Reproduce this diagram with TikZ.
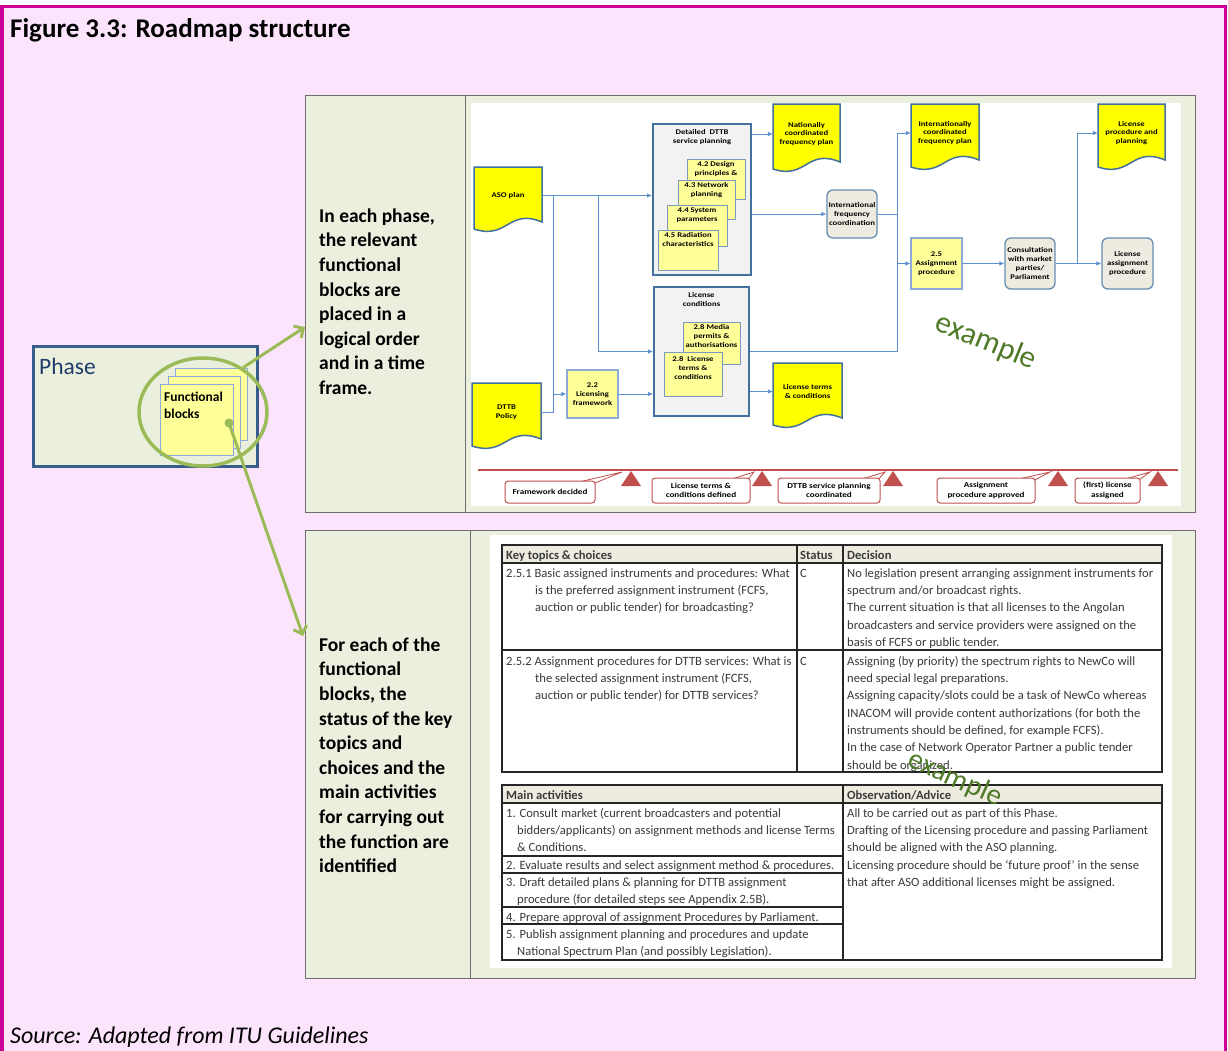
\documentclass[tikz,border=0pt]{standalone}
\usepackage{fontspec}
\setmainfont{Carlito}
\newfontfamily\widefont[FakeStretch=1.2]{Carlito}
\usetikzlibrary{arrows.meta,calc,shapes.geometric}
\definecolor{pinkbg}{HTML}{FDE4FD}
\definecolor{magborder}{HTML}{CC0099}
\definecolor{panelgreen}{HTML}{EBF0DE}
\definecolor{phaseblue}{HTML}{385D8A}
\definecolor{phasetext}{HTML}{1F3D6B}
\definecolor{docyellow}{HTML}{FFFF00}
\definecolor{lyellow}{HTML}{FFFF99}
\definecolor{boxblue}{HTML}{41719C}
\definecolor{lightboxblue}{HTML}{8EAADB}
\definecolor{contgray}{HTML}{F2F2F2}
\definecolor{roundgray}{HTML}{EEECE1}
\definecolor{connblue}{HTML}{5B8FD0}
\definecolor{msred}{HTML}{C0504D}
\definecolor{exgreen}{HTML}{4F7A28}
\definecolor{fgreen}{HTML}{9BBB59}
\definecolor{tabtext}{HTML}{3A3A3A}
\definecolor{tabhead}{HTML}{EEECE1}
\definecolor{tabline}{HTML}{262626}
\definecolor{paneledge}{HTML}{6F6F6F}
% document shape: name, x1, y1, x2, ybottom, text
\newcommand\docbox[6]{%
  \filldraw[docsty] (#2,#3) -- (#4,#3) -- (#4,#5-10)
    .. controls ({(#2+#4)/2},#5-24) and ({(#2+#4)/2},#5+8) .. (#2,#5-3) -- cycle;
  \node[smalltxt, inner sep=0, minimum width={#4-#2}, minimum height={#5-#3-8}]
    (#1) at ({(#2+#4)/2},{(#3+#5-8)/2}) {#6};}
\begin{document}
\begin{tikzpicture}[x=1pt,y=-1pt,
  conn/.style={draw=connblue, line width=0.8pt},
  arr/.style={conn, -{Latex[length=5pt,width=4.5pt]}},
  smalltxt/.style={font=\widefont\fontsize{7.2}{8.8}\selectfont\bfseries, align=center},
  docsty/.style={fill=docyellow, draw=boxblue, line width=1.5pt},
  cont/.style={draw=boxblue, fill=contgray, line width=2pt, inner sep=0},
  subblk/.style={draw=boxblue!70, fill=lyellow, line width=1pt, inner sep=0},
  fnblk/.style={draw=lightboxblue, fill=lyellow, line width=1.3pt, smalltxt, inner sep=0.5pt},
  rbox/.style={draw=boxblue!80, fill=roundgray, rounded corners=6pt, line width=1.3pt, smalltxt, inner sep=0.5pt},
  mstone/.style={draw=msred, fill=white, rounded corners=3pt, line width=1pt,
    font=\widefont\fontsize{7.6}{9.5}\selectfont\bfseries, align=center, inner sep=0.5pt},
  mswedge/.style={draw=msred, fill=white, line width=0.8pt},
  cell/.style={anchor=north west, inner sep=0, align=left, text=tabtext, font=\fontsize{12.6}{17.3}\selectfont},
  headcell/.style={cell, font=\fontsize{12.6}{17.3}\selectfont\bfseries},
  bigtext/.style={anchor=north west, inner sep=0, align=left, font=\fontsize{19.5}{24.6}\selectfont\bfseries},
  examp/.style={text=exgreen, inner sep=0},
  greenarr/.style={draw=fgreen, line width=3pt, -{Straight Barb[length=7pt,width=14pt]}},
  fb/.style={draw=lightboxblue, fill=lyellow, line width=1pt, inner sep=0},
  panel/.style={draw=paneledge, fill=panelgreen, line width=0.8pt, inner sep=0}]
\useasboundingbox (0,0) rectangle (1228,1050);
% frame
\fill[white] (0,0) rectangle (1228,1050);
\filldraw[fill=pinkbg, draw=magborder, line width=3.5pt] (1.75,6.5) rectangle (1225.5,1075);
\node[anchor=base west, inner sep=0, font=\fontsize{27}{30}\selectfont\bfseries] (title) at (10,37) {Figure 3.3: Roadmap structure};
\node[anchor=base west, inner sep=0, font=\fontsize{24}{28}\selectfont\itshape] (source) at (10,1043) {Source: Adapted from ITU Guidelines};
% panels
\node[panel, minimum width=890, minimum height=417] (toppanel) at (750,303.5) {};
\draw[paneledge, line width=0.8pt] (465,95) -- (465,512);
\fill[white] (471,103) rectangle (1181,506);
\node[panel, minimum width=890, minimum height=448] (botpanel) at (750,754) {};
\draw[paneledge, line width=0.8pt] (470,530) -- (470,978);
\fill[white] (490,535) rectangle (1172,968);
% left texts
\node[bigtext] (txt1) at (319,204.8) {\strut In each phase,\\the relevant\\functional\\blocks are\\placed in a\\logical order\\and in a time\\frame.};
\node[bigtext] (txt2) at (319,633.8) {\strut For each of the\\functional\\blocks, the\\status of the key\\topics and\\choices and the\\main activities\\for carrying out\\the function are\\identified};
% phase box
\node[draw=phaseblue, fill=panelgreen, line width=3pt, minimum width=224, minimum height=120, inner sep=0] (phase) at (145,406) {};
\node[anchor=base west, inner sep=0, text=phasetext, font=\fontsize{23.5}{28}\selectfont] (phaselbl) at (39,374) {Phase};
\node[fb, minimum width=72, minimum height=72] (fbback) at (211,404) {};
\node[fb, minimum width=72, minimum height=72] (fbmid) at (204,412) {};
\node[fb, minimum width=73, minimum height=71] (fbfront) at (196.5,419.5) {};
\node[anchor=north west, inner sep=0, align=left, font=\fontsize{13.5}{17}\selectfont\bfseries] (fbtext) at (164,389) {\strut Functional\\blocks};
\node[draw=fgreen, line width=3.5pt, ellipse, minimum width=128, minimum height=108, inner sep=0] (fbell) at (203,412) {};
\node[circle, fill=fgreen, minimum size=9, inner sep=0] (fbdot) at (229,423) {};
\coordinate (tgt1) at (305,327);
\coordinate (tgt2) at (303,636);
\draw[greenarr] (fbell.48) -- (tgt1);
\draw[greenarr] (fbdot.center) -- (tgt2);
% ---- roadmap diagram ----
\docbox{aso}{474}{167}{542}{232}{ASO plan}
\docbox{dttbpol}{472}{383}{541}{449}{DTTB\\Policy}
\docbox{natdoc}{773}{104}{840}{172}{Nationally\\coordinated\\frequency plan}
\docbox{intdoc}{911}{104}{979}{170}{Internationally\\coordinated\\frequency plan}
\docbox{lppdoc}{1098}{104}{1165}{170}{License\\procedure and\\planning}
\docbox{ltcdoc}{773}{363}{842}{428}{License terms\\\& conditions}
% detailed DTTB service planning
\node[cont, minimum width=98, minimum height=151] (detc) at (702,199.5) {};
\node[smalltxt, anchor=north, inner sep=0] (detct) at ($(detc.north)+(0,6)$) {Detailed\ \ DTTB\\service planning};
\node[subblk, minimum width=58, minimum height=40] (s42) at (716,179) {};
\node[smalltxt, anchor=north, inner sep=0] (s42t) at ($(s42.north)+(0,3)$) {4.2 Design\\principles \&};
\node[subblk, minimum width=57, minimum height=39] (s43) at (706.5,199.5) {};
\node[smalltxt, anchor=north, inner sep=0] (s43t) at ($(s43.north)+(0,3)$) {4.3 Network\\planning};
\node[subblk, minimum width=60, minimum height=41] (s44) at (697,225.5) {};
\node[smalltxt, anchor=north, inner sep=0] (s44t) at ($(s44.north)+(0,3)$) {4.4 System\\parameters};
\node[subblk, minimum width=60, minimum height=40] (s45) at (688,250) {};
\node[smalltxt, anchor=north, inner sep=0] (s45t) at ($(s45.north)+(0,3)$) {4.5 Radiation\\characteristics};
% license conditions
\node[cont, minimum width=95, minimum height=129] (lcc) at (701.5,351.5) {};
\node[smalltxt, anchor=north, inner sep=0] (lcct) at ($(lcc.north)+(0,6)$) {License\\conditions};
\node[subblk, minimum width=57, minimum height=42] (m28) at (711.5,343) {};
\node[smalltxt, anchor=north, inner sep=0] (m28t) at ($(m28.north)+(0,3)$) {2.8 Media\\permits \&\\authorisations};
\node[subblk, minimum width=58, minimum height=44] (l28) at (693,374) {};
\node[smalltxt, anchor=north, inner sep=0] (l28t) at ($(l28.north)+(0,5)$) {2.8\ \ License\\terms \&\\conditions};
\node[fnblk, minimum width=51, minimum height=48] (f22) at (592.5,394) {2.2\\Licensing\\framework};
\node[rbox, minimum width=50, minimum height=48] (ifc) at (852,214) {International\\frequency\\coordination};
\node[fnblk, minimum width=51, minimum height=51] (a25) at (936.5,263.5) {2.5\\Assignment\\procedure};
\node[rbox, minimum width=50, minimum height=51] (cons) at (1030,263.5) {Consultation\\with market\\parties/\\Parliament};
\node[rbox, minimum width=51, minimum height=51] (lap) at (1127.5,263.5) {License\\assignment\\procedure};
% connectors
\coordinate (j1) at ($(aso.east)+(11,0)$);
\coordinate (j2) at ($(aso.east)+(56,0)$);
\coordinate (jv) at ($(ifc.east)+(20,0)$);
\coordinate (jc) at ($(cons.east)+(22,0)$);
\draw[arr] (aso.east) -- (aso.east -| detc.west);
\draw[conn] (dttbpol.east) -| (j1);
\draw[arr] (j1 |- f22.west) -- (f22.west);
\draw[arr] (j2) |- (lcc.west);
\draw[arr] (f22.east) -- (f22.east -| lcc.west);
\draw[arr] (lcc.east |- ltcdoc.west) -- (ltcdoc.west);
\draw[arr] (detc.east |- natdoc.west) -- (natdoc.west);
\draw[arr] (detc.east |- ifc.west) -- (ifc.west);
\draw[conn] (ifc.east) -- (jv);
\draw[arr] (jv) |- (intdoc.west);
\draw[arr] (jv) |- (a25.west);
\draw[conn] (lcc.east) -| (jv);
\draw[arr] (a25.east) -- (cons.west);
\draw[arr] (cons.east) -- (lap.west);
\draw[arr] (jc) |- (lppdoc.west);
% example watermark
\node[examp, rotate=-22, font=\fontsize{31}{31}\selectfont] (ex1) at (986,342) {example};
% milestones
\draw[msred, line width=2.5pt] (478,470) -- (1178,470);
\foreach \x in {631,762,893,1058,1158}
  \fill[msred] (\x,471) -- (\x+10,486) -- (\x-10,486) -- cycle;
\filldraw[mswedge] (566,485) -- (622,472) -- (590,485) -- cycle;
\node[mstone, minimum width=90, minimum height=22] (ms1) at (550,492) {Framework decided};
\filldraw[mswedge] (722,482) -- (754,472) -- (746,482) -- cycle;
\node[mstone, minimum width=98, minimum height=25] (ms2) at (701,490.5) {License terms \&\\conditions defined};
\filldraw[mswedge] (852,482) -- (885,472) -- (876,482) -- cycle;
\node[mstone, minimum width=102, minimum height=25] (ms3) at (829,490.5) {DTTB service planning\\coordinated};
\filldraw[mswedge] (1005,482) -- (1050,472) -- (1031,482) -- cycle;
\node[mstone, minimum width=98, minimum height=25] (ms4) at (986,490.5) {Assignment\\procedure approved};
\filldraw[mswedge] (1115,482) -- (1150,472) -- (1136,482) -- cycle;
\node[mstone, minimum width=65, minimum height=25] (ms5) at (1107.5,490.5) {(first) license\\assigned};
% ---- top table ----
\fill[tabhead] (502,545) rectangle (1162,563);
\draw[tabline, line width=1.2pt] (502,563) -- (1162,563) (502,650) -- (1162,650) (797,545) -- (797,772) (843,545) -- (843,772);
\draw[tabline, line width=2pt] (502,545) rectangle (1162,772);
\node[headcell] (h1) at (506,546.9) {\strut Key topics \& choices};
\node[headcell] (h2) at (800,546.9) {\strut Status};
\node[headcell] (h3) at (847,546.9) {\strut Decision};
\node[cell] (c11) at (506,564.9) {\strut 2.5.1 Basic assigned instruments and procedures: What\\\hspace*{29pt}is the preferred assignment instrument (FCFS,\\\hspace*{29pt}auction or public tender) for broadcasting?};
\node[cell] (c12) at (800,564.9) {\strut C};
\node[cell] (c13) at (847,564.9) {\strut No legislation present arranging assignment instruments for\\spectrum and/or broadcast rights.\\The current situation is that all licenses to the Angolan\\broadcasters and service providers were assigned on the\\basis of FCFS or public tender.};
\node[cell] (c21) at (506,652.9) {\strut 2.5.2 Assignment procedures for DTTB services: What is\\\hspace*{29pt}the selected assignment instrument (FCFS,\\\hspace*{29pt}auction or public tender) for DTTB services?};
\node[cell] (c22) at (800,652.9) {\strut C};
\node[cell] (c23) at (847,652.9) {\strut Assigning (by priority) the spectrum rights to NewCo will\\need special legal preparations.\\Assigning capacity/slots could be a task of NewCo whereas\\INACOM will provide content authorizations (for both the\\instruments should be defined, for example FCFS).\\In the case of Network Operator Partner a public tender\\should be organized.};
% ---- bottom table ----
\fill[tabhead] (502,785) rectangle (1162,803);
\draw[tabline, line width=1.2pt] (502,803) -- (1162,803) (502,856) -- (843,856) (502,873) -- (843,873) (502,907) -- (843,907) (502,924) -- (843,924) (843,785) -- (843,960);
\draw[tabline, line width=2pt] (502,785) rectangle (1162,960);
\node[headcell] (bh1) at (506,786.9) {\strut Main activities};
\node[headcell] (bh2) at (847,786.9) {\strut Observation/Advice};
\node[cell] (ma1) at (506,804.9) {\strut 1. Consult market (current broadcasters and potential\\\hspace*{11pt}bidders/applicants) on assignment methods and license Terms\\\hspace*{11pt}\& Conditions.};
\node[cell] (ma2) at (506,856.9) {\strut 2. Evaluate results and select assignment method \& procedures.};
\node[cell] (ma3) at (506,873.9) {\strut 3. Draft detailed plans \& planning for DTTB assignment\\\hspace*{11pt}procedure (for detailed steps see Appendix 2.5B).};
\node[cell] (ma4) at (506,908.9) {\strut 4. Prepare approval of assignment Procedures by Parliament.};
\node[cell] (ma5) at (506,925.9) {\strut 5. Publish assignment planning and procedures and update\\\hspace*{11pt}National Spectrum Plan (and possibly Legislation).};
\node[cell] (obs) at (847,804.9) {\strut All to be carried out as part of this Phase.\\Drafting of the Licensing procedure and passing Parliament\\should be aligned with the ASO planning.\\Licensing procedure should be ‘future proof’ in the sense\\that after ASO additional licenses might be assigned.};
\node[examp, rotate=-24, font=\fontsize{29}{29}\selectfont] (ex2) at (955,779) {example};
\end{tikzpicture}
\end{document}
